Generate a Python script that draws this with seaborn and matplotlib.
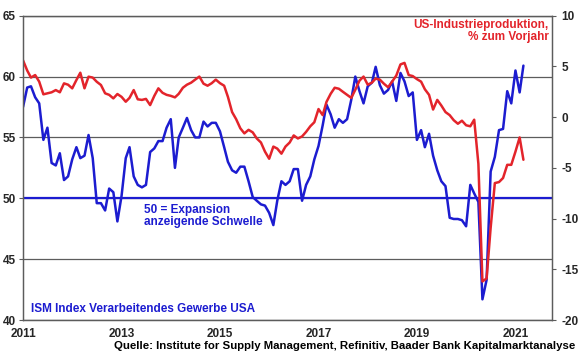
import matplotlib
matplotlib.use("Agg")
import matplotlib.pyplot as plt
import seaborn as sns
import pandas as pd

# Monatswerte Dez 2010 .. Feb 2021 (Monatsende)
months = pd.date_range("2010-12-31", periods=123, freq="ME")

# ISM Index Verarbeitendes Gewerbe USA (linke Achse)
ism_pmi = [
    57.5,
    59.1, 59.2, 58.3, 57.8, 54.8, 55.8, 52.9, 52.7, 53.7, 51.5, 51.8, 53.2,
    54.2, 53.3, 53.5, 55.2, 53.3, 49.6, 49.6, 49.0, 50.8, 50.5, 48.1, 50.2,
    53.3, 54.2, 51.8, 51.1, 50.9, 51.1, 53.8, 54.1, 54.7, 54.7, 55.8, 56.5,
    52.5, 55.0, 55.8, 56.6, 55.6, 55.0, 55.0, 56.3, 55.9, 56.2, 56.2, 55.5,
    54.2, 53.0, 52.3, 52.1, 52.6, 52.6, 51.4, 50.1, 49.8, 49.5, 49.4, 48.8,
    47.8, 49.8, 51.4, 51.1, 51.4, 52.4, 52.4, 49.8, 51.1, 51.8, 53.2, 54.3,
    56.0, 57.7, 56.9, 55.8, 56.5, 56.2, 56.5, 58.1, 60.0, 58.8, 57.8, 59.2,
    59.5, 60.8, 59.3, 58.6, 58.9, 59.6, 58.0, 60.3, 59.6, 58.4, 58.7, 54.8,
    55.6, 54.2, 55.3, 53.5, 52.3, 51.4, 51.0, 48.4, 48.3, 48.3, 48.2, 47.7,
    51.1, 50.4, 49.7, 41.7, 43.3, 52.2, 53.4, 55.6, 55.7, 58.8, 57.8, 60.5,
    58.7, 60.9,
]

# US-Industrieproduktion, % zum Vorjahr (rechte Achse)
ind_prod_yoy = [
    5.6,
    4.6, 3.9, 4.15, 3.5, 2.25, 2.35, 2.45, 2.67, 2.45, 3.33, 3.2, 2.84,
    3.66, 4.38, 2.84, 3.99, 3.9, 3.49, 3.17, 2.35, 2.2, 1.85, 2.28, 2.0,
    1.52, 1.9, 2.67, 1.76, 1.7, 1.8, 1.19, 2.1, 2.84, 2.4, 2.2, 2.1,
    1.95, 2.3, 2.9, 3.2, 3.4, 3.7, 4.0, 3.3, 3.1, 3.35, 3.7, 3.35,
    3.1, 2.0, 0.5, -0.2, -1.1, -1.6, -1.25, -1.5, -2.1, -2.5, -3.4, -4.1,
    -2.9, -3.1, -3.6, -2.9, -2.5, -1.8, -2.1, -1.9, -1.45, -0.9, -0.5, 0.8,
    0.2, 1.5, 2.3, 2.9, 2.8, 2.5, 2.2, 1.9, 2.7, 3.6, 4.0, 3.2,
    3.4, 3.8, 3.7, 3.3, 2.95, 3.5, 4.1, 5.2, 5.35, 4.15, 4.05, 3.75,
    3.5, 2.75, 2.2, 0.75, 1.7, 1.15, 0.5, 0.2, -0.3, -0.65, -0.35, -0.8,
    -0.9, -0.25, -4.6, -16.2, -15.9, -10.9, -6.5, -6.4, -6.0, -4.7, -4.7, -3.4,
    -2.0, -4.2,
]

left_ticks = [40, 45, 50, 55, 60, 65]
right_ticks = [-20, -15, -10, -5, 0, 5, 10]
year_ticks = [2011, 2013, 2015, 2017, 2019, 2021]

BLUE = "#1c1cd0"
RED = "#e3242b"
GRID = "#5c5c5c"

sns.set_style("white")
plt.rcParams["font.family"] = ["Liberation Sans", "DejaVu Sans"]
plt.rcParams["axes.unicode_minus"] = False

df = pd.DataFrame({"Datum": months, "ISM": ism_pmi, "IP": ind_prod_yoy})

fig = plt.figure(figsize=(5.8, 3.59), dpi=100)
ax = fig.add_axes([0.0397, 0.1086, 0.912, 0.8476])

sns.lineplot(data=df, x="Datum", y="ISM", ax=ax, color=BLUE, linewidth=1.8)
ax.axhline(50, color=BLUE, linewidth=1.6, zorder=1)
ax.set_ylim(40, 65)
ax.set_yticks(left_ticks)
ax.yaxis.grid(True, color=GRID, linewidth=0.9)
ax.set_axisbelow(True)

ax.set_xlim(pd.Timestamp("2010-12-31"), pd.Timestamp("2021-09-28"))
ax.set_xticks([pd.Timestamp(f"{y}-01-01") for y in year_ticks])
ax.set_xticklabels([str(y) for y in year_ticks])
ax.set_xlabel("")
ax.set_ylabel("")

ax2 = ax.twinx()
sns.lineplot(data=df, x="Datum", y="IP", ax=ax2, color=RED, linewidth=1.8)
ax2.set_ylim(-20, 10)
ax2.set_yticks(right_ticks)
ax2.set_ylabel("")

for a in (ax, ax2):
    for s in a.spines.values():
        s.set_color(GRID)
        s.set_linewidth(0.9)
    a.tick_params(length=3, width=0.8, color=GRID, labelsize=8.5, pad=2)
    for lbl in a.get_xticklabels() + a.get_yticklabels():
        lbl.set_fontweight("bold")
ax.tick_params(axis="x", pad=3)
ax2.tick_params(axis="y", pad=4)

ax2.text(0.994, 0.99, "US-Industrieproduktion,\n% zum Vorjahr", transform=ax2.transAxes,
         ha="right", va="top", color=RED, fontsize=8.5, fontweight="bold",
         multialignment="right", linespacing=1.05)
ax.text(pd.Timestamp("2013-06-15"), 49.55, "50 = Expansion\nanzeigende Schwelle",
        ha="left", va="top", color=BLUE, fontsize=8.5, fontweight="bold", linespacing=1.05)
ax.text(pd.Timestamp("2011-03-01"), 40.9, "ISM Index Verarbeitendes Gewerbe USA",
        ha="left", va="center", color=BLUE, fontsize=8.5, fontweight="bold")
fig.text(0.992, 0.036, "Quelle: Institute for Supply Management, Refinitiv, Baader Bank Kapitalmarktanalyse",
         ha="right", va="center", color="black", fontsize=8.2, fontweight="bold")

fig.savefig("out.png", dpi=100)
